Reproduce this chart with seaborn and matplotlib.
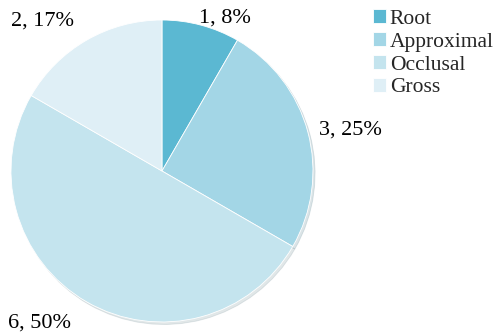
import seaborn as sns
import matplotlib.pyplot as plt
import numpy as np

# data
categories = ['Root', 'Approximal', 'Occlusal', 'Gross']
counts = [1, 3, 6, 2]
colors = ['#5BB8D2', '#A3D6E6', '#C4E4EE', '#DFEFF6']

sns.set_theme(style='white')
plt.rcParams['font.family'] = ['Liberation Serif', 'DejaVu Serif']

fig = plt.figure(figsize=(4.97, 3.33), dpi=100)
ax = fig.add_axes([0.0221, 0.033, 0.6076, 0.907])

wedges, _ = ax.pie(counts, colors=colors, startangle=90, counterclock=False,
                   radius=1, wedgeprops=dict(edgecolor='white', linewidth=0.6),
                   shadow=dict(ox=0.01, oy=-0.012, shade=0.3, alpha=0.25))
ax.set_xlim(-1, 1)
ax.set_ylim(-1, 1)
ax.set_aspect('equal')

# label placement (Excel "best fit" style), in pie radius units
total = sum(counts)
label_pos = [(0.42, 1.01), (1.245, 0.27), (-0.81, -1.01), (-0.79, 0.99)]
for n, (x, y) in zip(counts, label_pos):
    pct = round(100 * n / total)
    ax.text(x, y, f'{n}, {pct}%', ha='center', va='center', fontsize=16,
            color='black', clip_on=False)

fig.legend(wedges, categories, loc='upper left', bbox_to_anchor=(0.742, 0.985),
           frameon=False, fontsize=15.5, handlelength=0.58, handleheight=0.58,
           handletextpad=0.2, labelspacing=0.17, borderaxespad=0, borderpad=0.2)

fig.savefig('out.png', dpi=100)
